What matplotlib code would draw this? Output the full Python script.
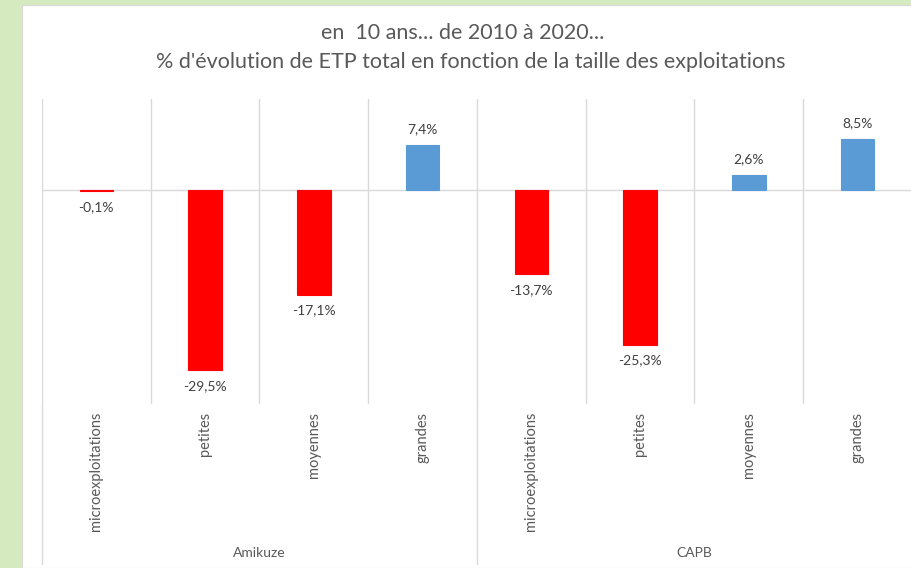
import matplotlib
matplotlib.use("Agg")
import matplotlib.pyplot as plt
from matplotlib.patches import Rectangle
import numpy as np

plt.rcParams['font.family'] = ['Lato', 'DejaVu Sans']

groups = ["Amikuze", "CAPB"]
categories = ["microexploitations", "petites", "moyennes", "grandes"]
amikuze = [-0.1, -29.5, -17.1, 7.4]
capb = [-13.7, -25.3, 2.6, 8.5]
title_lines = ["en  10 ans... de 2010 à 2020...",
               "% d'évolution de ETP total en fonction de la taille des exploitations"]

values = amikuze + capb
labels = categories * len(groups)
n = len(values)

W, H = 912, 568
fig = plt.figure(figsize=(W / 100, H / 100), dpi=100)
fig.patch.set_facecolor("#d6eac0")

# white chart panel
fig.add_artist(Rectangle((22 / W, 0), 1 - 22 / W, 1 - 5 / H, transform=fig.transFigure,
                         facecolor="white", edgecolor="#d9d9d9", linewidth=0.8, zorder=0))

left, right = 42 / W, 912 / W
bottom, top = 1 - 404 / H, 1 - 99 / H
ax = fig.add_axes([left, bottom, right - left, top - bottom])
ax.set_facecolor("none")
ax.set_xlim(0, n)
ax.set_ylim(-35, 15)
for s in ax.spines.values():
    s.set_visible(False)
ax.set_xticks([])
ax.set_yticks([])

grid_c = "#d9d9d9"
for b in range(n + 1):
    ax.axvline(b, color=grid_c, lw=1, zorder=1)
ax.axhline(0, color=grid_c, lw=1, zorder=1)

x = np.arange(n) + 0.5
colors = ["#ff0000" if v < 0 else "#5b9bd5" for v in values]
ax.bar(x, values, width=0.31, color=colors, edgecolor=colors, linewidth=0.8, zorder=2)

for xi, v in zip(x, values):
    txt = f"{v:.1f}%".replace(".", ",")
    if v < 0:
        ax.annotate(txt, (xi, v), xytext=(0, -7), textcoords="offset points",
                    ha="center", va="top", fontsize=10, color="#404040")
    else:
        ax.annotate(txt, (xi, v), xytext=(0, 7), textcoords="offset points",
                    ha="center", va="bottom", fontsize=10, color="#404040")

# category labels and group separators below the plot
trans = ax.get_xaxis_transform()
span = 404 - 99
y_lab = -(412 - 404) / span
for xi, lab in zip(x, labels):
    ax.text(xi, y_lab, lab, rotation=90, ha="center", va="top", fontsize=10.5,
            color="#595959", transform=trans, clip_on=False)

y_end = -(564 - 404) / span
for gi in range(len(groups) + 1):
    xb = gi * len(categories)
    ax.plot([xb, xb], [0, y_end], color=grid_c, lw=1, transform=trans, clip_on=False)

y_grp = -(553 - 404) / span
for gi, g in enumerate(groups):
    xc = gi * len(categories) + len(categories) / 2
    ax.text(xc, y_grp, g, ha="center", va="center", fontsize=10, color="#595959",
            transform=trans, clip_on=False)

fig.text(463 / W, 1 - 33 / H, title_lines[0], ha="center", va="center",
         fontsize=15.5, color="#595959")
fig.text(471 / W, 1 - 62 / H, title_lines[1], ha="center", va="center",
         fontsize=15.5, color="#595959")

fig.savefig("out.png", dpi=100, facecolor=fig.get_facecolor())
